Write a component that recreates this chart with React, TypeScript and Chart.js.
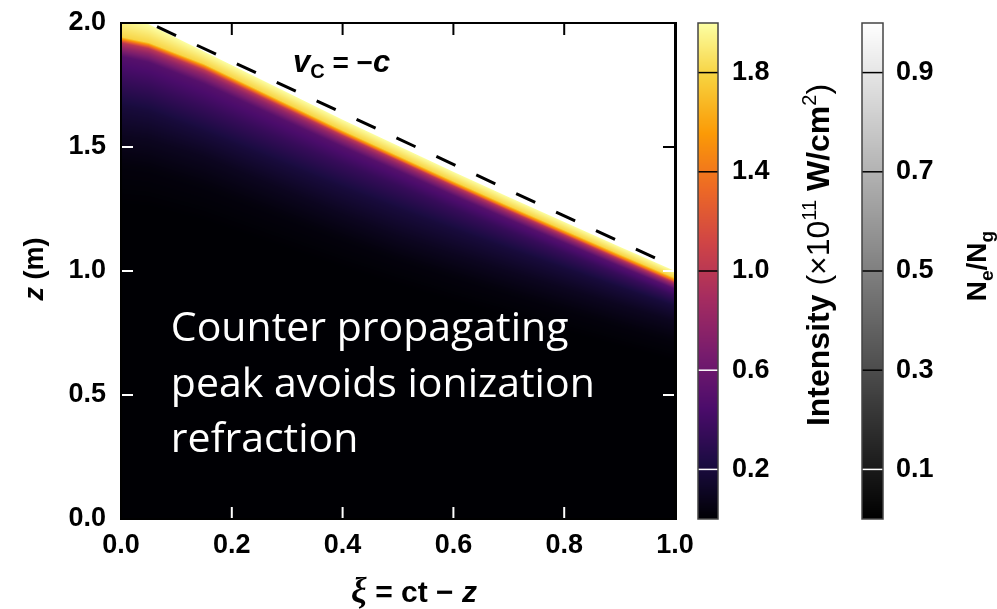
import React, { useEffect, useRef } from 'react';
import { Chart, registerables } from 'chart.js';
Chart.register(...registerables);

// ---- tick values ----
const xiTicks = [0, 0.2, 0.4, 0.6, 0.8, 1.0];
const zTicks = [0, 0.5, 1.0, 1.5, 2.0];
const intensityTicks = [0.2, 0.6, 1.0, 1.4, 1.8];
const densityTicks = [0.1, 0.3, 0.5, 0.7, 0.9];
const intensityRange = [0, 2];
const densityRange = [0, 1];

// ---- dashed v_c = -c line ----
const dashXi = [0.065, 1.0];
const dashZ = [1.985, 1.015];

// ---- ionization front (top edge of intense band), z in m ----
const frontXi = [0, 0.05, 0.1, 0.2, 0.3, 0.4, 0.5, 0.6, 0.7, 0.8, 0.9, 1.0];
const frontZ = [2.03, 1.995, 1.94, 1.83, 1.72, 1.61, 1.505, 1.4, 1.298, 1.198, 1.098, 1.0];

// ---- intensity levels and depth (z below front) where each level is reached ----
const intensityLevels = [2.0, 1.8, 1.4, 1.0, 0.8, 0.5, 0.35, 0.2, 0.1, 0.03, 0];
const profileXi = [0, 0.15, 0.5, 1.0];
const depthAtXi000 = [0, 0.086, 0.098, 0.11, 0.13, 0.165, 0.262, 0.363, 0.484, 0.605, 0.766];
const depthAtXi015 = [0, 0.05, 0.062, 0.075, 0.091, 0.13, 0.222, 0.323, 0.423, 0.544, 0.685];
const depthAtXi050 = [0, 0.04, 0.052, 0.06, 0.073, 0.101, 0.161, 0.254, 0.363, 0.456, 0.565];
const depthAtXi100 = [0, 0.028, 0.04, 0.048, 0.056, 0.073, 0.101, 0.141, 0.202, 0.282, 0.363];

const annotationLines = ['Counter propagating', 'peak avoids ionization', 'refraction'];

// ---- styles ----
const INFERNO = ['#000004', '#1b0c42', '#4b0c6b', '#781c6d', '#a52c60', '#cf4446', '#ed6925', '#fb9a06', '#f7d03c', '#fcffa4'];
const SANS = '"Liberation Sans", Arial, Helvetica, sans-serif';
const TICK_FONT = { family: SANS, size: 27, weight: 'bold' as const };

const infernoRGB = INFERNO.map((h) => [parseInt(h.slice(1, 3), 16), parseInt(h.slice(3, 5), 16), parseInt(h.slice(5, 7), 16)]);

function inferno(t: number): number[] {
  t = Math.max(0, Math.min(1, t));
  const p = t * (infernoRGB.length - 1);
  const i = Math.min(infernoRGB.length - 2, Math.floor(p));
  const f = p - i;
  const a = infernoRGB[i], b = infernoRGB[i + 1];
  return [a[0] + (b[0] - a[0]) * f, a[1] + (b[1] - a[1]) * f, a[2] + (b[2] - a[2]) * f];
}

function interp(xs: number[], ys: number[], x: number): number {
  if (x <= xs[0]) return ys[0];
  const n = xs.length;
  if (x >= xs[n - 1]) return ys[n - 1];
  for (let i = 0; i < n - 1; i++) {
    if (x <= xs[i + 1]) {
      const f = (x - xs[i]) / (xs[i + 1] - xs[i]);
      return ys[i] + (ys[i + 1] - ys[i]) * f;
    }
  }
  return ys[n - 1];
}

const profiles = [depthAtXi000, depthAtXi015, depthAtXi050, depthAtXi100];
function levelDepths(xi: number): number[] {
  return intensityLevels.map((_, k) => interp(profileXi, profiles.map((p) => p[k]), xi));
}
function intensityAt(xi: number, z: number): number | null {
  const zf = interp(frontXi, frontZ, xi);
  const d = zf - z;
  if (d < 0) return null;
  return interp(levelDepths(xi), intensityLevels, d);
}

type Run = { text: string; font: string; dy?: number };
function runsWidth(ctx: CanvasRenderingContext2D, runs: Run[]) {
  let w = 0;
  for (const r of runs) {
    ctx.font = r.font;
    w += ctx.measureText(r.text).width;
  }
  return w;
}
function drawRuns(ctx: CanvasRenderingContext2D, runs: Run[], x: number, y: number, align: 'left' | 'center') {
  const total = runsWidth(ctx, runs);
  let cx = align === 'center' ? x - total / 2 : x;
  ctx.textAlign = 'left';
  ctx.textBaseline = 'alphabetic';
  for (const r of runs) {
    ctx.font = r.font;
    ctx.fillText(r.text, cx, y + (r.dy || 0));
    cx += ctx.measureText(r.text).width;
  }
}

const heatmapPlugin = {
  id: 'heatmap',
  beforeDatasetsDraw(chart: any) {
    const { ctx, chartArea: a, scales } = chart;
    const xs = scales.x, ys = scales.y;
    const w = Math.round(a.right - a.left), h = Math.round(a.bottom - a.top);
    const off = document.createElement('canvas');
    off.width = w;
    off.height = h;
    const octx = off.getContext('2d')!;
    const img = octx.createImageData(w, h);
    for (let i = 0; i < w; i++) {
      const xi = xs.getValueForPixel(a.left + i + 0.5);
      const zf = interp(frontXi, frontZ, xi);
      const fp = ys.getPixelForValue(zf);
      const depths = levelDepths(xi);
      for (let j = 0; j < h; j++) {
        const py = a.top + j + 0.5;
        const cover = Math.max(0, Math.min(1, py - fp + 0.5));
        let r = 255, g = 255, b = 255;
        if (cover > 0) {
          const z = ys.getValueForPixel(py);
          const d = Math.max(0, zf - z);
          const I = interp(depths, intensityLevels, d);
          const c = inferno((I - intensityRange[0]) / (intensityRange[1] - intensityRange[0]));
          r = 255 * (1 - cover) + c[0] * cover;
          g = 255 * (1 - cover) + c[1] * cover;
          b = 255 * (1 - cover) + c[2] * cover;
        }
        const k = (j * w + i) * 4;
        img.data[k] = r;
        img.data[k + 1] = g;
        img.data[k + 2] = b;
        img.data[k + 3] = 255;
      }
    }
    octx.putImageData(img, 0, 0);
    ctx.drawImage(off, a.left, a.top);
  },
};

const framePlugin = {
  id: 'frame',
  afterDatasetsDraw(chart: any) {
    const { ctx, chartArea: a, scales } = chart;
    const xs = scales.x, ys = scales.y;
    const L = 12;
    ctx.save();
    ctx.lineWidth = 2;
    const colorAt = (px: number, py: number) => (intensityAt(xs.getValueForPixel(px), ys.getValueForPixel(py)) === null ? '#000' : '#fff');
    for (const v of xiTicks) {
      if (v <= 0 || v >= 1) continue;
      const px = xs.getPixelForValue(v);
      ctx.strokeStyle = colorAt(px, a.bottom - 6);
      ctx.beginPath(); ctx.moveTo(px, a.bottom); ctx.lineTo(px, a.bottom - L); ctx.stroke();
      ctx.strokeStyle = colorAt(px, a.top + 6);
      ctx.beginPath(); ctx.moveTo(px, a.top); ctx.lineTo(px, a.top + L); ctx.stroke();
    }
    for (const v of zTicks) {
      if (v <= 0 || v >= 2) continue;
      const py = ys.getPixelForValue(v);
      ctx.strokeStyle = colorAt(a.left + 6, py);
      ctx.beginPath(); ctx.moveTo(a.left, py); ctx.lineTo(a.left + L, py); ctx.stroke();
      ctx.strokeStyle = colorAt(a.right - 6, py);
      ctx.beginPath(); ctx.moveTo(a.right, py); ctx.lineTo(a.right - L, py); ctx.stroke();
    }
    ctx.strokeStyle = '#000';
    ctx.lineWidth = 2;
    ctx.strokeRect(a.left, a.top, a.right - a.left, a.bottom - a.top);
    ctx.lineWidth = 3;
    ctx.beginPath(); ctx.moveTo(a.right + 0.5, a.top - 1); ctx.lineTo(a.right + 0.5, a.bottom + 1); ctx.stroke();
    ctx.restore();
  },
};

function drawColorbar(ctx: CanvasRenderingContext2D, scale: any, x0: number, width: number, range: number[], ticks: number[], colorFn: (t: number) => number[]) {
  const top = Math.round(scale.getPixelForValue(range[1]));
  const bottom = Math.round(scale.getPixelForValue(range[0]));
  for (let py = top; py < bottom; py++) {
    const v = scale.getValueForPixel(py + 0.5);
    const c = colorFn((v - range[0]) / (range[1] - range[0]));
    ctx.fillStyle = `rgb(${Math.round(c[0])},${Math.round(c[1])},${Math.round(c[2])})`;
    ctx.fillRect(x0, py, width, 1);
  }
  ctx.lineWidth = 1.5;
  for (const v of ticks) {
    const py = scale.getPixelForValue(v);
    const c = colorFn((v - range[0]) / (range[1] - range[0]));
    const lum = (0.299 * c[0] + 0.587 * c[1] + 0.114 * c[2]) / 255;
    ctx.strokeStyle = lum < 0.3 ? '#fff' : '#000';
    ctx.beginPath(); ctx.moveTo(x0, py); ctx.lineTo(x0 + width, py); ctx.stroke();
  }
  ctx.strokeStyle = '#444';
  ctx.lineWidth = 1.5;
  ctx.strokeRect(x0, top, width, bottom - top);
}

const colorbarPlugin = {
  id: 'colorbars',
  afterDraw(chart: any) {
    const { ctx, scales } = chart;
    ctx.save();
    drawColorbar(ctx, scales.yI, scales.yI.left + 23, 20, intensityRange, intensityTicks, inferno);
    drawColorbar(ctx, scales.yN, scales.yN.left, 21, densityRange, densityTicks, (t) => [255 * t, 255 * t, 255 * t]);
    ctx.restore();
  },
};

const textPlugin = {
  id: 'texts',
  afterDraw(chart: any) {
    const { ctx, chartArea: a, scales } = chart;
    ctx.save();
    // annotation
    ctx.fillStyle = '#fff';
    ctx.font = '41px "Open Sans", "Noto Sans", sans-serif';
    ctx.textAlign = 'left';
    ctx.textBaseline = 'alphabetic';
    const ax = scales.x.getPixelForValue(0.09);
    annotationLines.forEach((t, i) => ctx.fillText(t, ax, 341 + i * 55.5));

    ctx.fillStyle = '#000';
    // v_c = -c
    drawRuns(ctx, [
      { text: 'v', font: `italic bold 31px ${SANS}` },
      { text: 'C', font: `bold 20px ${SANS}`, dy: 6 },
      { text: ' = −', font: `bold 28px ${SANS}` },
      { text: 'c', font: `italic bold 31px ${SANS}` },
    ], 293, 72, 'left');

    // x label
    drawRuns(ctx, [
      { text: 'ξ', font: `italic bold 35px "Liberation Serif", "DejaVu Serif", serif` },
      { text: ' = ct − ', font: `bold 30px ${SANS}` },
      { text: 'z', font: `italic bold 30px ${SANS}` },
    ], 414, 602, 'center');

    // y label
    ctx.save();
    ctx.translate(43, (a.top + a.bottom) / 2 - 2);
    ctx.rotate(-Math.PI / 2);
    drawRuns(ctx, [
      { text: 'z', font: `italic bold 27px ${SANS}` },
      { text: ' (m)', font: `bold 27px ${SANS}` },
    ], 0, 0, 'center');
    ctx.restore();

    // intensity title
    ctx.save();
    ctx.translate(829, 255);
    ctx.rotate(-Math.PI / 2);
    drawRuns(ctx, [
      { text: 'Intensity ', font: `bold 32px ${SANS}` },
      { text: '(×10', font: `32px ${SANS}` },
      { text: '11', font: `20px ${SANS}`, dy: -13 },
      { text: ' W/cm', font: `bold 32px ${SANS}` },
      { text: '2', font: `20px ${SANS}`, dy: -13 },
      { text: ')', font: `32px ${SANS}` },
    ], 0, 0, 'center');
    ctx.restore();

    // Ne/Ng title
    ctx.save();
    ctx.translate(986, 266);
    ctx.rotate(-Math.PI / 2);
    drawRuns(ctx, [
      { text: 'N', font: `bold 28px ${SANS}` },
      { text: 'e', font: `bold 19px ${SANS}`, dy: 7 },
      { text: '/N', font: `bold 28px ${SANS}` },
      { text: 'g', font: `bold 19px ${SANS}`, dy: 7 },
    ], 0, 0, 'center');
    ctx.restore();
    ctx.restore();
  },
};

const noOverhang = (s: any) => { s.paddingTop = 0; s.paddingBottom = 0; };

export default function App() {
  const ref = useRef<HTMLCanvasElement>(null);
  useEffect(() => {
    document.body.style.margin = '0';
    const canvas = ref.current!;
    const chart = new Chart(canvas, {
      type: 'scatter',
      data: {
        datasets: [
          {
            data: dashXi.map((x, i) => ({ x, y: dashZ[i] })),
            showLine: true,
            borderColor: '#000',
            borderWidth: 3,
            borderDash: [21, 23],
            pointRadius: 0,
            xAxisID: 'x',
            yAxisID: 'y',
          },
        ],
      },
      options: {
        responsive: false,
        animation: false,
        events: [],
        layout: { padding: { top: 23, left: 0, right: 0, bottom: 0 } },
        plugins: { legend: { display: false }, tooltip: { enabled: false } },
        scales: {
          x: {
            type: 'linear', position: 'bottom', min: 0, max: 1,
            afterBuildTicks: (s: any) => { s.ticks = xiTicks.map((v) => ({ value: v })); },
            afterFit: (s: any) => { s.height = 90; s.paddingLeft = 0; s.paddingRight = 0; },
            ticks: { autoSkip: false, maxRotation: 0, padding: 10, color: '#000', font: TICK_FONT, callback: (v: any) => Number(v).toFixed(1) },
            grid: { display: false, drawTicks: false },
            border: { display: false },
          },
          y: {
            type: 'linear', position: 'left', min: 0, max: 2,
            afterBuildTicks: (s: any) => { s.ticks = zTicks.map((v) => ({ value: v })); },
            afterFit: (s: any) => { s.width = 121; noOverhang(s); },
            ticks: { autoSkip: false, padding: 15, color: '#000', font: TICK_FONT, callback: (v: any) => Number(v).toFixed(1) },
            grid: { display: false, drawTicks: false },
            border: { display: false },
          },
          yI: {
            type: 'linear', position: 'right', min: intensityRange[0], max: intensityRange[1], weight: 0,
            afterBuildTicks: (s: any) => { s.ticks = intensityTicks.map((v) => ({ value: v })); },
            afterFit: (s: any) => { s.width = 187; noOverhang(s); },
            ticks: { autoSkip: false, padding: 57, color: '#000', font: TICK_FONT, callback: (v: any) => Number(v).toFixed(1) },
            grid: { display: false, drawTicks: false },
            border: { display: false },
          },
          yN: {
            type: 'linear', position: 'right', min: densityRange[0], max: densityRange[1], weight: 1,
            afterBuildTicks: (s: any) => { s.ticks = densityTicks.map((v) => ({ value: v })); },
            afterFit: (s: any) => { s.width = 135; noOverhang(s); },
            ticks: { autoSkip: false, padding: 34, color: '#000', font: TICK_FONT, callback: (v: any) => Number(v).toFixed(1) },
            grid: { display: false, drawTicks: false },
            border: { display: false },
          },
        },
      } as any,
      plugins: [heatmapPlugin, framePlugin, colorbarPlugin, textPlugin],
    });
    return () => chart.destroy();
  }, []);
  return (
    <div style={{ width: 997, height: 609, background: '#fff' }}>
      <canvas ref={ref} width={997} height={609} style={{ display: 'block' }} />
    </div>
  );
}
